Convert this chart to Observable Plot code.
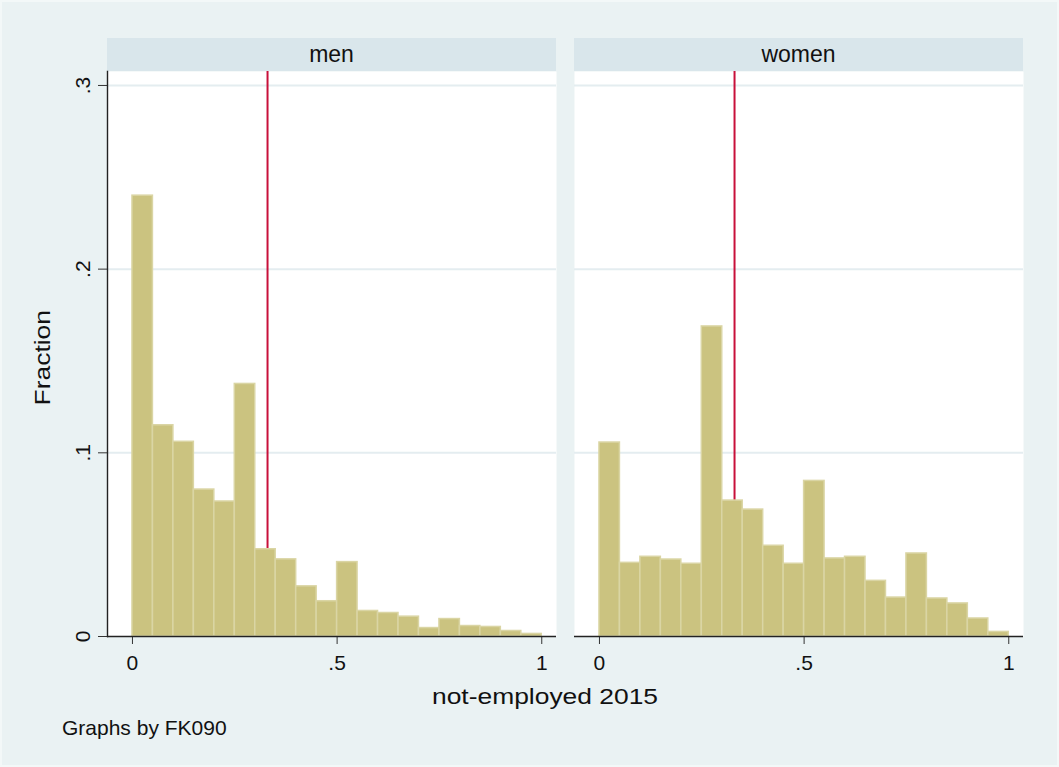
<!DOCTYPE html>
<html>
<head>
<meta charset="utf-8">
<script src="https://cdn.jsdelivr.net/npm/d3@7"></script>
<script src="https://cdn.jsdelivr.net/npm/@observablehq/plot@0.6"></script>
<style>
  html, body { margin: 0; padding: 0; }
  body { width: 1059px; height: 767px; background: #eaf2f3; position: relative; overflow: hidden;
         font-family: "Liberation Sans", Arial, Helvetica, sans-serif; color: #111; }
  #frame { position: absolute; left: 0; top: 0; width: 1055px; height: 763px; border: 2px solid #f3f8f8; }
  .header { position: absolute; top: 38px; height: 33px; width: 449px; background: #d9e6eb;
            display: flex; align-items: center; justify-content: center; font-size: 23px; }
  .chart { position: absolute; top: 71px; }
  .chart svg { display: block; overflow: visible; }
  #xtitle { position: absolute; left: 544.5px; top: 705px; font-size: 22px; white-space: nowrap;
            transform: translate(-50%, -80%) scaleX(1.2); }
  #ytitle { position: absolute; left: 48px; top: 357.5px; font-size: 22px; white-space: nowrap;
            transform-origin: 0 0; }
  #note { position: absolute; left: 62px; top: 716px; font-size: 21px; white-space: nowrap; }
</style>
</head>
<body>
<div id="frame"></div>
<div class="header" style="left:107px">men</div>
<div class="header" style="left:574px">women</div>
<div id="men" class="chart" style="left:0px"></div>
<div id="women" class="chart" style="left:574px"></div>
<div id="xtitle">not-employed 2015</div>
<div id="ytitle"><span id="ytext" style="display:inline-block">Fraction</span></div>
<div id="note">Graphs by FK090</div>
<script>
// bin edges of the histogram (width .05)
const binStart = [0, 0.05, 0.10, 0.15, 0.20, 0.25, 0.30, 0.35, 0.40, 0.45, 0.50, 0.55, 0.60, 0.65, 0.70, 0.75, 0.80, 0.85, 0.90, 0.95];
const binEnd   = [0.05, 0.10, 0.15, 0.20, 0.25, 0.30, 0.35, 0.40, 0.45, 0.50, 0.55, 0.60, 0.65, 0.70, 0.75, 0.80, 0.85, 0.90, 0.95, 1.00];
const menFraction   = [0.240, 0.115, 0.106, 0.080, 0.0735, 0.1375, 0.0475, 0.042, 0.0273, 0.0192, 0.0405, 0.0139, 0.0128, 0.0108, 0.0046, 0.0095, 0.0057, 0.0052, 0.0030, 0.0014];
const womenFraction = [0.1056, 0.0401, 0.0434, 0.0419, 0.0396, 0.1688, 0.0740, 0.0691, 0.0494, 0.0396, 0.0847, 0.0425, 0.0434, 0.0303, 0.0212, 0.0452, 0.0207, 0.0180, 0.0098, 0.0025];
const refLine = [0.33];
const xTicks = [0, 0.5, 1];
const yTicks = [0, 0.1, 0.2, 0.3];
const yGrid = [0.1, 0.2, 0.3];
const xDomain = [-0.061, 1.036];
const yDomain = [0, 0.3076];

const fmt = d => d === 0 ? "0" : String(d).replace(/^0\./, ".");

function rows(values) {
  return values.map((v, i) => ({x1: binStart[i], x2: binEnd[i], y: v}));
}

function panel(values, withYAxis) {
  const w = withYAxis ? 556 : 449;
  const marks = [
    Plot.frame({fill: "white", stroke: "none"}),
    Plot.gridY(yGrid, {stroke: "#e4edf0", strokeWidth: 2, strokeOpacity: 1}),
    Plot.ruleX(refLine, {stroke: "#c8103a", strokeWidth: 2}),
    Plot.rectY(rows(values), {x1: "x1", x2: "x2", y: "y", fill: "#cbc380", stroke: "#dad5a4", strokeWidth: 1.5}),
    Plot.axisX({ticks: xTicks, tickSize: 8, tickPadding: 11, tickFormat: fmt, label: null, stroke: "#333", fontSize: 21}),
    Plot.ruleY([0], {stroke: "#222", strokeWidth: 1.4})
  ];
  if (withYAxis) {
    marks.push(
      Plot.axisY({ticks: yTicks, tickSize: 9, tickPadding: 9, tickRotate: -90, tickFormat: fmt, label: null, stroke: "#333", fontSize: 21}),
      Plot.frame({anchor: "left", stroke: "#222", strokeWidth: 1.4})
    );
  }
  return Plot.plot({
    width: w,
    height: 615,
    marginLeft: withYAxis ? 107 : 0,
    marginRight: 0,
    marginTop: 0,
    marginBottom: 50,
    x: {domain: xDomain},
    y: withYAxis ? {domain: yDomain} : {domain: yDomain, axis: null},
    style: {background: "transparent", fontFamily: "'Liberation Sans', Arial, Helvetica, sans-serif", fontSize: "21px", color: "#111", overflow: "visible"},
    marks
  });
}

document.getElementById("men").appendChild(panel(menFraction, true));
document.getElementById("women").appendChild(panel(womenFraction, false));

// rotate y title: baseline on right, centered vertically
const yt = document.getElementById("ytitle");
const span = document.getElementById("ytext");
const wdt = span.offsetWidth;
yt.style.transform = `rotate(-90deg) scaleX(1.2) translate(${-wdt / 2}px, -${0.8 * 22}px)`;
</script>
</body>
</html>
